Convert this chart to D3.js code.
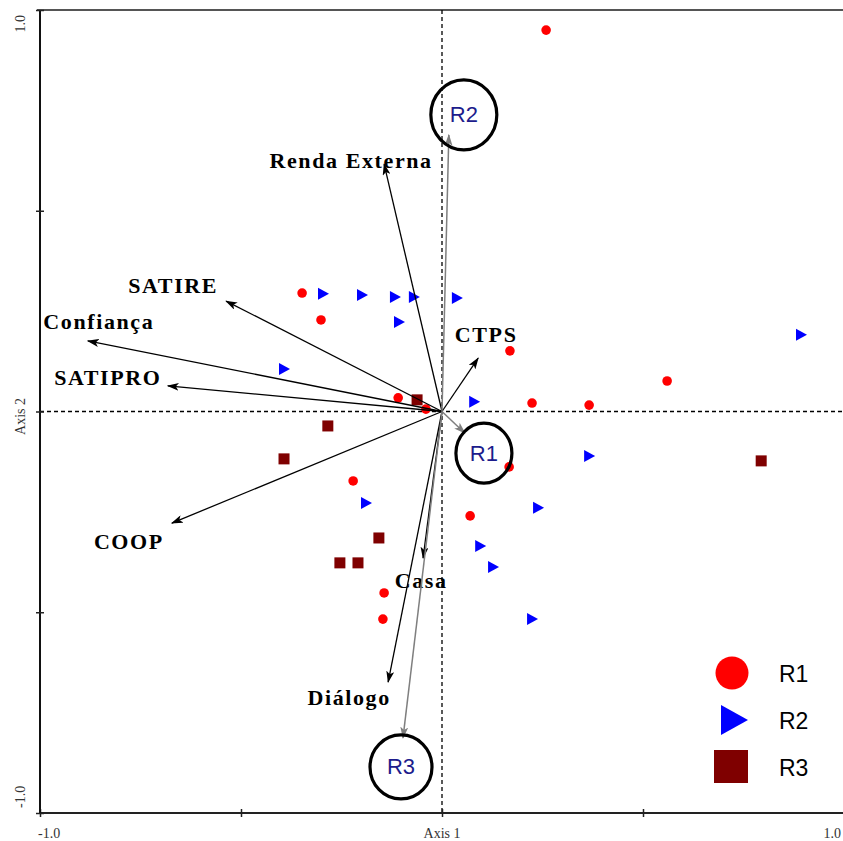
<!DOCTYPE html>
<html><head><meta charset="utf-8">
<script src="https://cdn.jsdelivr.net/npm/d3@7"></script>
<style>body{margin:0;background:#fff}svg{display:block}</style>
</head><body>
<script>
// ---- data ----
const r1Points = [[0.259,0.950],[-0.348,0.295],[-0.301,0.228],[0.169,0.151],[-0.109,0.034],[-0.040,0.006],
  [0.224,0.021],[0.366,0.016],[0.560,0.076],[0.167,-0.138],[-0.221,-0.173],[0.070,-0.260],[-0.144,-0.452],[-0.147,-0.517]];
const r2Points = [[-0.296,0.293],[-0.199,0.290],[-0.117,0.285],[-0.070,0.285],[0.037,0.283],[-0.107,0.223],
  [-0.393,0.106],[0.080,0.024],[0.893,0.191],[0.366,-0.111],[-0.189,-0.228],[0.239,-0.240],[0.095,-0.335],[0.127,-0.387],[0.224,-0.517]];
const r3Points = [[-0.062,0.029],[-0.284,-0.036],[-0.393,-0.118],[-0.157,-0.315],[-0.254,-0.377],[-0.209,-0.377],[0.794,-0.123]];
const vectorNames = ["Renda Externa","SATIRE","Confiança","SATIPRO","COOP","CTPS","Casa","Diálogo"];
const vectorX = [-0.144,-0.537,-0.881,-0.682,-0.672,0.090,-0.047,-0.134];
const vectorY = [0.616,0.275,0.176,0.064,-0.278,0.133,-0.365,-0.674];
const groupNames = ["R1","R2","R3"];
const groupX = [0.057,0.017,-0.097];
const groupY = [-0.054,0.689,-0.813];
const xTickValues = [-1,-0.5,0,0.5,1];
const yTickValues = [-1,-0.5,0,0.5,1];
const xTickLabels = ["-1.0","Axis 1","1.0"];
const yTickLabels = ["-1.0","Axis 2","1.0"];

// ---- layout (pixel offsets of labels from arrow tips) ----
const vectorLabelOffset = [[-33,-4],[-53,-16],[11,-19],[-60,-8],[-43,18],[8,-24],[-2,22],[-39,15]];
const groupCircleOffset = [[19,20],[15,-20],[-2,29]];
const groupCircleR = [[28,30],[33,35],[31,32]];

const W = 843, H = 841;
const svg = d3.select("body").append("svg").attr("width", W).attr("height", H);
const x = d3.scaleLinear().domain([-1,1]).range([40,844]);
const y = d3.scaleLinear().domain([-1,1]).range([813,10]);

const defs = svg.append("defs");
function marker(id, color){
  defs.append("marker").attr("id", id).attr("viewBox","0 0 12 8").attr("refX",11).attr("refY",4)
    .attr("markerWidth",12).attr("markerHeight",8).attr("markerUnits","userSpaceOnUse").attr("orient","auto")
    .append("path").attr("d","M0,0 L12,4 L0,8 L3,4 Z").attr("fill", color);
}
marker("ab","#000"); marker("ag","#7f7f7f");

// frame
svg.append("line").attr("x1",37).attr("x2",W).attr("y1",y(1)).attr("y2",y(1)).attr("stroke","#555").attr("stroke-width",2);
// dashed zero lines
svg.append("line").attr("x1",x(0)).attr("x2",x(0)).attr("y1",y(1)).attr("y2",y(-1))
  .attr("stroke","#000").attr("stroke-width",1.3).attr("stroke-dasharray","4,3");
svg.append("line").attr("x1",x(-1)).attr("x2",W).attr("y1",y(0)).attr("y2",y(0))
  .attr("stroke","#000").attr("stroke-width",1.3).attr("stroke-dasharray","4,3");

// axes
const gx = svg.append("g").attr("transform",`translate(0,${y(-1)})`)
  .call(d3.axisBottom(x).tickValues(xTickValues).tickSize(4).tickFormat(""));
gx.selectAll(".tick line").attr("y1",-4).attr("stroke","#222").attr("stroke-width",1.5);
gx.select(".domain").attr("d",`M${x(-1)},0H${W}`).attr("stroke","#222").attr("stroke-width",2);
const gy = svg.append("g").attr("transform",`translate(${x(-1)},0)`)
  .call(d3.axisLeft(y).tickValues(yTickValues).tickSize(4).tickFormat(""));
gy.selectAll(".tick line").attr("x1",4).attr("stroke","#222").attr("stroke-width",1.5);
gy.select(".domain").attr("d",`M0,${y(1)}V${y(-1)}`).attr("stroke","#111").attr("stroke-width",2);

const tickFont = "'Liberation Serif','Times New Roman',serif";
svg.append("text").attr("x",x(-1)-2).attr("y",838).attr("text-anchor","start").text(xTickLabels[0]);
svg.append("text").attr("x",x(0)).attr("y",838).attr("text-anchor","middle").text(xTickLabels[1]);
svg.append("text").attr("x",841).attr("y",838).attr("text-anchor","end").text(xTickLabels[2]);
[[y(-1)-5,yTickLabels[0],"start"],[y(0)+5,yTickLabels[1],"middle"],[y(1)+5,yTickLabels[2],"end"]].forEach(([yy,t,a])=>{
  svg.append("text").attr("transform",`translate(25,${yy}) rotate(-90)`).attr("text-anchor",a).text(t);
});
svg.selectAll("text").attr("font-family",tickFont).attr("font-size",14).attr("fill","#333");

// points
const pts = svg.append("g");
pts.selectAll("circle.r1").data(r1Points).join("circle")
  .attr("cx",d=>x(d[0])).attr("cy",d=>y(d[1])).attr("r",4.8).attr("fill","#ff0000");
pts.selectAll("path.r2").data(r2Points).join("path")
  .attr("transform",d=>`translate(${x(d[0])},${y(d[1])})`).attr("d","M-5,-6L6,0L-5,6Z").attr("fill","#0000ff");
pts.selectAll("rect.r3").data(r3Points).join("rect")
  .attr("x",d=>x(d[0])-5.5).attr("y",d=>y(d[1])-5.5).attr("width",11).attr("height",11).attr("fill","#7f0000");

// vectors
const vec = svg.append("g");
vectorNames.forEach((n,i)=>{
  vec.append("line").attr("x1",x(0)).attr("y1",y(0)).attr("x2",x(vectorX[i])).attr("y2",y(vectorY[i]))
    .attr("stroke","#000").attr("stroke-width",1.3).attr("marker-end","url(#ab)");
  vec.append("text").attr("x",x(vectorX[i])+vectorLabelOffset[i][0]).attr("y",y(vectorY[i])+vectorLabelOffset[i][1])
    .attr("text-anchor","middle").attr("dominant-baseline","central")
    .attr("font-family","'Liberation Serif','Times New Roman',serif").attr("font-weight","bold")
    .attr("font-size",22).attr("letter-spacing","1.6px").attr("fill","#000").text(n);
});
// group (supplementary) vectors
groupNames.forEach((n,i)=>{
  const tx = x(groupX[i]), ty = y(groupY[i]);
  vec.append("line").attr("x1",x(0)).attr("y1",y(0)).attr("x2",tx).attr("y2",ty)
    .attr("stroke","#7f7f7f").attr("stroke-width",1.5).attr("marker-end","url(#ag)");
  const cx = tx+groupCircleOffset[i][0], cy = ty+groupCircleOffset[i][1];
  vec.append("ellipse").attr("cx",cx).attr("cy",cy).attr("rx",groupCircleR[i][0]).attr("ry",groupCircleR[i][1])
    .attr("fill","none").attr("stroke","#000").attr("stroke-width",3.2);
  vec.append("text").attr("x",cx).attr("y",cy).attr("text-anchor","middle").attr("dominant-baseline","central")
    .attr("font-family","'Liberation Sans',Arial,sans-serif").attr("font-size",22).attr("fill","#1c1c8c").text(n);
});

// legend
const lg = svg.append("g");
const legColors = ["#ff0000","#0000ff","#7f0000"];
groupNames.forEach((n,i)=>{
  const cy = 673 + i*47;
  if(i===0) lg.append("circle").attr("cx",732).attr("cy",cy).attr("r",16.5).attr("fill",legColors[i]);
  if(i===1) lg.append("path").attr("d",`M721,${cy-15}L748,${cy}L721,${cy+15}Z`).attr("fill",legColors[i]);
  if(i===2) lg.append("rect").attr("x",714).attr("y",cy-17).attr("width",34).attr("height",33).attr("fill",legColors[i]);
  lg.append("text").attr("x",779).attr("y",cy+1).attr("dominant-baseline","central")
    .attr("font-family","'Liberation Sans',Arial,sans-serif").attr("font-size",23).attr("fill","#000").text(n);
});
</script>
</body></html>
